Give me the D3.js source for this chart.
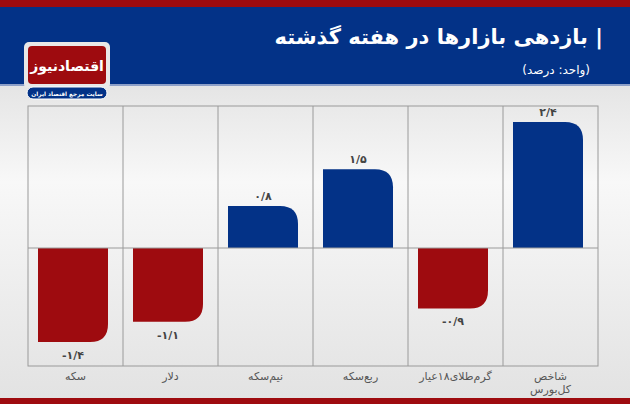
<!DOCTYPE html>
<html><head><meta charset="utf-8">
<script src="https://cdn.jsdelivr.net/npm/d3@7"></script>
<style>body{margin:0;background:#fff}svg{display:block;font-family:"DejaVu Sans",sans-serif}</style>
</head><body><svg id="c" width="630" height="404"></svg>
<script>
// data, left to right as drawn
const categories = ["سکه", "دلار", "نیم‌سکه", "ربع‌سکه", "گرم‌طلای۱۸عیار", "شاخص کل‌بورس"];
const values = [-1.4, -1.1, 0.8, 1.5, -0.9, 2.4];
const valueLabels = ["-۱/۴", "-۱/۱", "۰/۸", "۱/۵", "-۰/۹", "۲/۴"];

const svg = d3.select("#c");
const W = 630, H = 404;

const defs = svg.append("defs");
const bg = defs.append("linearGradient").attr("id", "bg").attr("x1", 0).attr("x2", 0).attr("y1", 0).attr("y2", 1);
bg.append("stop").attr("offset", "0%").attr("stop-color", "#d4d4d4");
bg.append("stop").attr("offset", "45%").attr("stop-color", "#f8f8f8");
bg.append("stop").attr("offset", "100%").attr("stop-color", "#e2e2e2");

svg.append("rect").attr("width", W).attr("height", H).attr("fill", "url(#bg)");
svg.append("rect").attr("width", W).attr("height", 7).attr("fill", "#9e0b0f");
svg.append("rect").attr("y", 7).attr("width", W).attr("height", 77).attr("fill", "#033287");
svg.append("rect").attr("y", 84).attr("width", W).attr("height", 2).attr("fill", "#8ea0c8");
svg.append("rect").attr("y", 398).attr("width", W).attr("height", 6).attr("fill", "#9e0b0f");

// title
svg.append("text").attr("x", 603).attr("y", 44).attr("direction", "rtl").attr("text-anchor", "start")
  .attr("fill", "#fff").attr("font-size", 21).attr("font-weight", "bold")
  .text("| بازدهی بازارها در هفته گذشته");
svg.append("text").attr("x", 590).attr("y", 74).attr("direction", "rtl").attr("text-anchor", "start")
  .attr("fill", "#fff").attr("font-size", 12).text("(واحد: درصد)");

// logo
svg.append("rect").attr("x", 24).attr("y", 42).attr("width", 86).attr("height", 47).attr("rx", 5).attr("fill", "#e8e8e8");
svg.append("rect").attr("x", 28).attr("y", 46).attr("width", 78).attr("height", 38).attr("rx", 4).attr("fill", "#9e0b0f");
svg.append("text").attr("x", 67).attr("y", 71).attr("text-anchor", "middle").attr("fill", "#fff")
  .attr("font-size", 14).attr("font-weight", "bold").text("اقتصادنیوز");
svg.append("rect").attr("x", 27).attr("y", 87).attr("width", 80).attr("height", 12).attr("rx", 6).attr("fill", "#033287").attr("stroke", "#fff");
svg.append("text").attr("x", 67).attr("y", 95.5).attr("text-anchor", "middle").attr("fill", "#fff")
  .attr("font-size", 5.8).attr("font-weight", "bold").text("سایت مرجع اقتصاد ایران");

// plot
const x = d3.scaleBand().domain(categories).range([28, 598]);
const y = d3.scaleLinear().domain([-1.4, 0, 2.4]).range([342, 248, 122]);
const plotTop = 106, plotBottom = 366;

const g = svg.append("g");
g.append("rect").attr("x", 28).attr("y", plotTop).attr("width", 570).attr("height", plotBottom - plotTop)
  .attr("fill", "none").attr("stroke", "#9a9a9a");
g.selectAll(".sep").data(categories.slice(1)).join("line")
  .attr("x1", d => x(d)).attr("x2", d => x(d)).attr("y1", plotTop).attr("y2", plotBottom)
  .attr("stroke", "#9a9a9a");

function barPath(d, i) {
  const x0 = x(categories[i]) + 10, w = 70, y0 = y(0), y1 = y(d);
  const r = Math.min(18, Math.abs(y1 - y0));
  if (d >= 0) {
    return `M${x0},${y0}V${y1}H${x0 + w - r}Q${x0 + w},${y1} ${x0 + w},${y1 + r}V${y0}Z`;
  }
  return `M${x0},${y0}V${y1}H${x0 + w - r}Q${x0 + w},${y1} ${x0 + w},${y1 - r}V${y0}Z`;
}
g.selectAll(".bar").data(values).join("path")
  .attr("d", barPath).attr("fill", d => d >= 0 ? "#033287" : "#9e0b0f");

g.append("line").attr("x1", 28).attr("x2", 598).attr("y1", y(0)).attr("y2", y(0)).attr("stroke", "#9a9a9a");

g.selectAll(".vl").data(values).join("text")
  .attr("x", (d, i) => x(categories[i]) + 45)
  .attr("y", d => d >= 0 ? y(d) - 6 : y(d) + 17)
  .attr("text-anchor", "middle").attr("font-size", 11).attr("font-weight", "bold").attr("fill", "#444")
  .text((d, i) => "\u200E" + valueLabels[i]);

g.selectAll(".cl").data(categories).join("text")
  .attr("x", d => x(d) + x.bandwidth() / 2).attr("y", 380)
  .attr("text-anchor", "middle").attr("font-size", 11).attr("fill", "#555")
  .each(function (d) {
    const parts = d === "شاخص کل‌بورس" ? ["شاخص", "کل‌بورس"] : [d];
    parts.forEach((p, k) => d3.select(this).append("tspan").attr("x", x(d) + x.bandwidth() / 2).attr("dy", k ? 13 : 0).text(p));
  });
</script></body></html>
